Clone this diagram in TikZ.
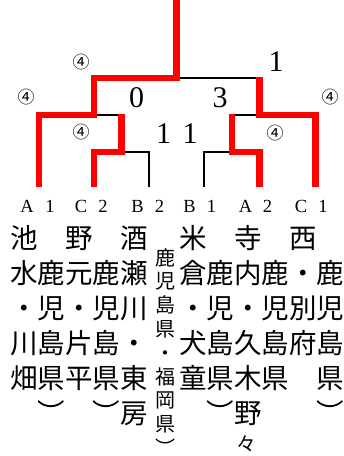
\documentclass[tikz,border=0pt]{standalone}
\usepackage{fontspec}
\setmainfont{Liberation Serif}
\newfontfamily\jpfont{Noto Sans CJK JP}
\newcommand\vcolumn[6]{%
  \foreach \ch [count=\k] in {#6} {%
    \node[#2] (#1-\k) at ({#3},{#4+#5*(\k-1)}) {\ch};}}
\begin{document}
\begin{tikzpicture}[x=1pt,y=-1pt,
  win/.style={draw=red,line width=6.8pt,line join=miter,line cap=butt},
  lose/.style={draw=black,line width=2.8pt},
  jp/.style={font=\jpfont\fontsize{27.5}{27.5}\selectfont,inner sep=0pt,anchor=base},
  jps/.style={font=\jpfont\fontsize{20}{20}\selectfont,inner sep=0pt,anchor=base},
  score/.style={font=\fontsize{30}{30}\selectfont,inner sep=0pt},
  seed/.style={font=\jpfont\fontsize{17}{17}\selectfont,inner sep=0pt},
  team/.style={font=\fontsize{18.5}{18.5}\selectfont,inner sep=0pt,anchor=base}]
\useasboundingbox (0,0) rectangle (344,456);

% end points and junctions
\coordinate (A1) at (39,187);
\coordinate (C2) at (94,187);
\coordinate (B2) at (149,187);
\coordinate (B1) at (204,187);
\coordinate (A2) at (259.5,187);
\coordinate (C1) at (315.5,187);
\coordinate (top) at (176.5,0);
\coordinate (l1) at (121.5,152);
\coordinate (l1t) at (121.5,113.6);
\coordinate (l2) at (94,115);
\coordinate (r1) at (232,152);
\coordinate (r1t) at (232,113.6);
\coordinate (r2) at (259.5,115);
\coordinate (r2t) at (259.5,76.6);
\coordinate (f) at (176.5,78);

% losing lines
\draw[lose] (B2) |- (l1);
\draw[lose] (l2) -- (l1 |- l2);
\draw[lose] (B1) |- (r1);
\draw[lose] (r1 |- r2) -- (r2);
\draw[lose] (f) -- (r2 |- f);

% winning lines
\draw[win] (A1) |- (l2) |- (f) -- (top);
\draw[win] (C2) |- (l1) -- (l1t);
\draw[win] (A2) |- (r1) -- (r1t);
\draw[win] (C1) |- (r2) -- (r2t);

% scores
\node[seed] (s1) at (81,62) {④};
\node[seed] (s2) at (26,97) {④};
\node[seed] (s3) at (81,132) {④};
\node[seed] (s4) at (275,133) {④};
\node[seed] (s5) at (330,97) {④};
\node[score] (n1) at (276,62) {1};
\node[score] (n0) at (136.5,98) {0};
\node[score] (n3) at (220,98) {3};
\node[score] (n11a) at (163.5,133.5) {1};
\node[score] (n11b) at (190,133.5) {1};

% team labels
\node[team] (tA1) at (38.5,212) {\makebox[23pt]{A}\makebox[23pt]{1}};
\node[team] (tC2) at (92,212) {\makebox[22pt]{C}\makebox[22pt]{2}};
\node[team] (tB2) at (148.5,212) {\makebox[22pt]{B}\makebox[22pt]{2}};
\node[team] (tB1) at (200.5,212) {\makebox[22pt]{B}\makebox[22pt]{1}};
\node[team] (tA2) at (256.5,212) {\makebox[22pt]{A}\makebox[22pt]{2}};
\node[team] (tC1) at (312,212) {\makebox[22pt]{C}\makebox[22pt]{1}};

% names (vertical columns)
\vcolumn{L1}{jp}{23.8}{248.5}{35}{池,水,・,川,畑}
\vcolumn{L2}{jp}{51.4}{283.5}{35}{鹿,児,島,県,︶}
\vcolumn{L3}{jp}{79}{248.5}{35}{野,元,・,片,平}
\vcolumn{L4}{jp}{106.6}{283.5}{35}{鹿,児,島,県,︶}
\vcolumn{L5}{jp}{134.2}{248.5}{35}{酒,瀬,川,・,東,房}
\vcolumn{S}{jps}{165}{265}{23.8}{鹿,児,島,県,・,福,岡,県}
\node[jps] (S-9) at (165,455) {\smash{︶}};
\vcolumn{R1}{jp}{192.8}{248.5}{35}{米,倉,・,犬,童}
\vcolumn{R2}{jp}{220.3}{283.5}{35}{鹿,児,島,県,︶}
\vcolumn{R3}{jp}{247.8}{248.5}{35}{寺,内,・,久,木,野}
\node[jps] (R3-7) at (246.5,451) {々};
\vcolumn{R4}{jp}{275.3}{283.5}{35}{鹿,児,島,県}
\vcolumn{R5}{jp}{302.8}{248.5}{35}{西,・,別,府}
\vcolumn{R6}{jp}{330.3}{283.5}{35}{鹿,児,島,県,︶}
\end{tikzpicture}
\end{document}
